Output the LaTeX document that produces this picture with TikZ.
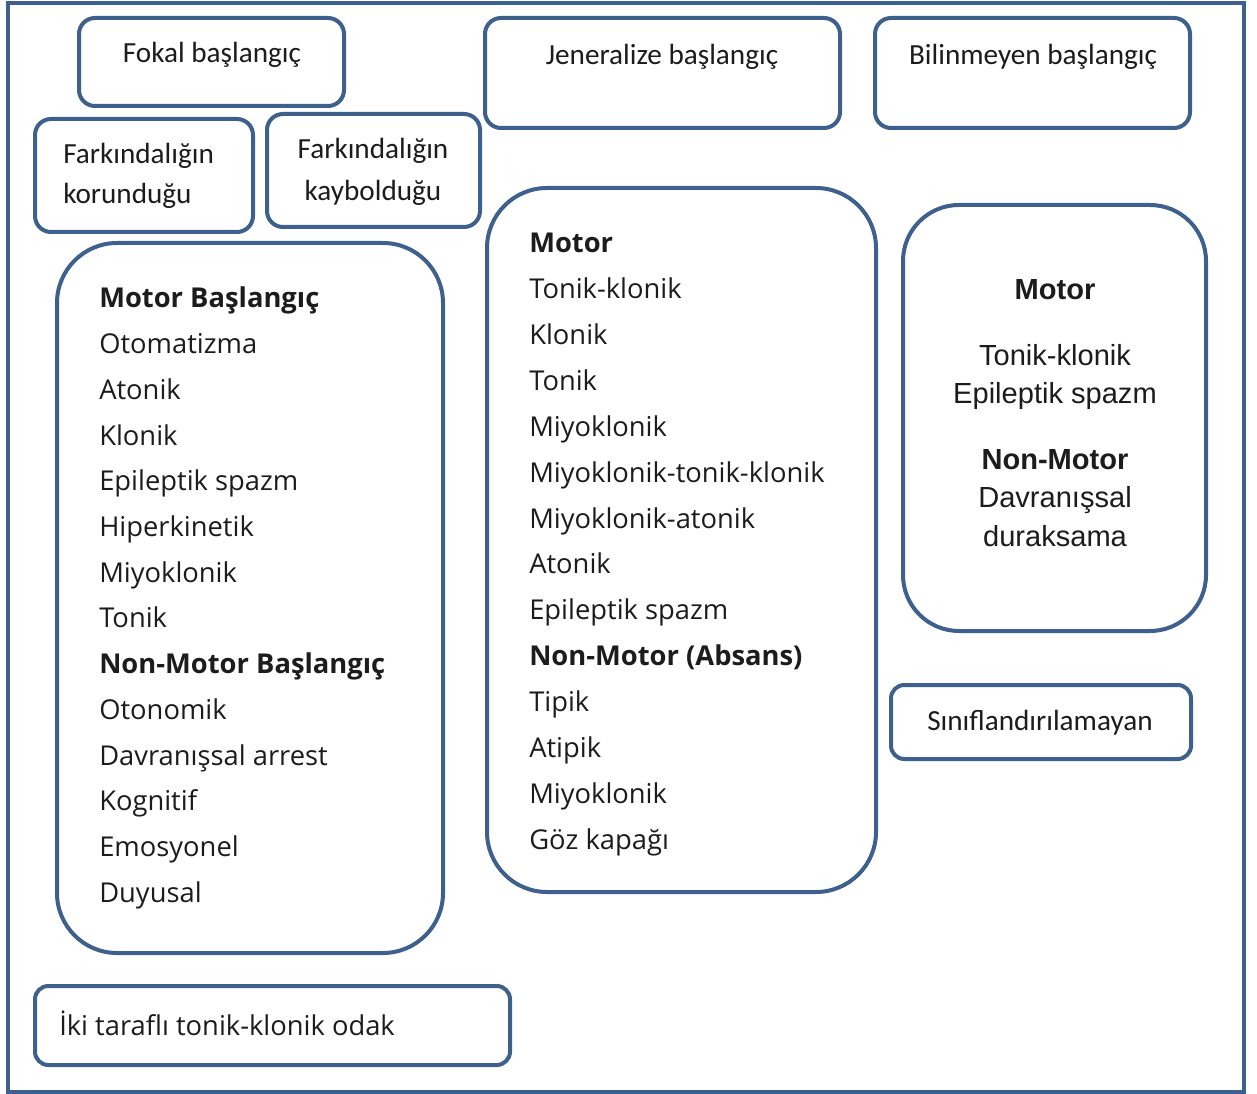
\documentclass[tikz,border=0pt]{standalone}
\usepackage{fontspec}
\setmainfont{Open Sans}
\newfontfamily\calib{Carlito}
\newfontfamily\arialf{Liberation Sans}
\definecolor{bord}{RGB}{62,96,140}
\definecolor{txt}{RGB}{28,28,28}
\newcommand{\bx}[6]{\node[boxn,rounded corners=#6,minimum width={(#4-#2)*0.75pt},minimum height={(#5-#3)*0.75pt}] (#1) at ({(#2+#4)/2},{(#3+#5)/2}) {};}
\begin{document}
\begin{tikzpicture}[x=0.75pt,y=-0.75pt,
  boxn/.style={draw=bord,line width=3pt,inner sep=0pt,rectangle},
  cal/.style={text=txt,inner sep=0pt,font=\calib\fontsize{21.9}{26}\selectfont},
  lst/.style={text=txt,inner sep=0pt,font=\fontsize{20.5}{25}\selectfont},
  ari/.style={text=txt,inner sep=0pt,font=\arialf\fontsize{21.8}{26}\selectfont}]
\useasboundingbox (0,0) rectangle (1257,1094);
\fill[white] (0,0) rectangle (1257,1094);
\draw[bord,line width=2.3pt] (8,3) rectangle (1244,1092);
% boxes
\bx{fokal}{79}{18}{344}{106}{12pt}
\bx{koru}{35}{119}{253}{232}{12pt}
\bx{kayb}{267}{114}{480}{227}{12pt}
\bx{jen}{485}{18}{840}{128}{12pt}
\bx{bil}{875}{18}{1190}{128}{12pt}
\bx{fmot}{57}{243}{443}{953}{45pt}
\bx{gmot}{487}{188}{876}{892}{45pt}
\bx{umot}{903}{205}{1206}{631}{42pt}
\bx{sinif}{891}{685}{1191}{759}{10pt}
\bx{iki}{35}{986}{510}{1065}{10pt}
% small box texts
\node[cal,anchor=base] (tfokal) at (212,63) {Fokal başlangıç};
\node[cal,anchor=base west] (tkoru1) at (63,164) {Farkındalığın};
\node[cal,anchor=base west] (tkoru2) at (63,204) {korunduğu};
\node[cal,anchor=base] (tkayb1) at (373,159) {Farkındalığın};
\node[cal,anchor=base] (tkayb2) at (373,201) {kaybolduğu};
\node[cal,anchor=base] (tjen) at (662,65) {Jeneralize başlangıç};
\node[cal,anchor=base] (tbil) at (1033,65) {Bilinmeyen başlangıç};
\node[cal,anchor=base] (tsinif) at (1040,730) {Sınıflandırılamayan};
\node[lst,anchor=base west] (tiki) at (59,1035) {İki taraflı tonik-klonik odak};
% left list
\foreach \t [count=\i from 0] in {{\bfseries Motor Başlangıç},Otomatizma,Atonik,Klonik,Epileptik spazm,Hiperkinetik,Miyoklonik,Tonik,{\bfseries Non-Motor Başlangıç},Otonomik,Davranışsal arrest,Kognitif,Emosyonel,Duyusal}
  \node[lst,anchor=base west] (fl\i) at (99,{308+\i*45.7}) {\t};
% middle list
\foreach \t [count=\i from 0] in {{\bfseries Motor},Tonik-klonik,Klonik,Tonik,Miyoklonik,Miyoklonik-tonik-klonik,Miyoklonik-atonik,Atonik,Epileptik spazm,{\bfseries Non-Motor (Absans)},Tipik,Atipik,Miyoklonik,Göz kapağı}
  \node[lst,anchor=base west] (gl\i) at (529,{253+\i*45.85}) {\t};
% right box
\node[ari,anchor=base,font=\arialf\bfseries\fontsize{21.8}{26}\selectfont] (u1) at (1055,300) {Motor};
\node[ari,anchor=base] (u2) at (1055,366) {Tonik-klonik};
\node[ari,anchor=base] (u3) at (1055,404) {Epileptik spazm};
\node[ari,anchor=base,font=\arialf\bfseries\fontsize{21.8}{26}\selectfont] (u4) at (1055,470) {Non-Motor};
\node[ari,anchor=base] (u5) at (1055,508) {Davranışsal};
\node[ari,anchor=base] (u6) at (1055,547) {duraksama};
\end{tikzpicture}
\end{document}
